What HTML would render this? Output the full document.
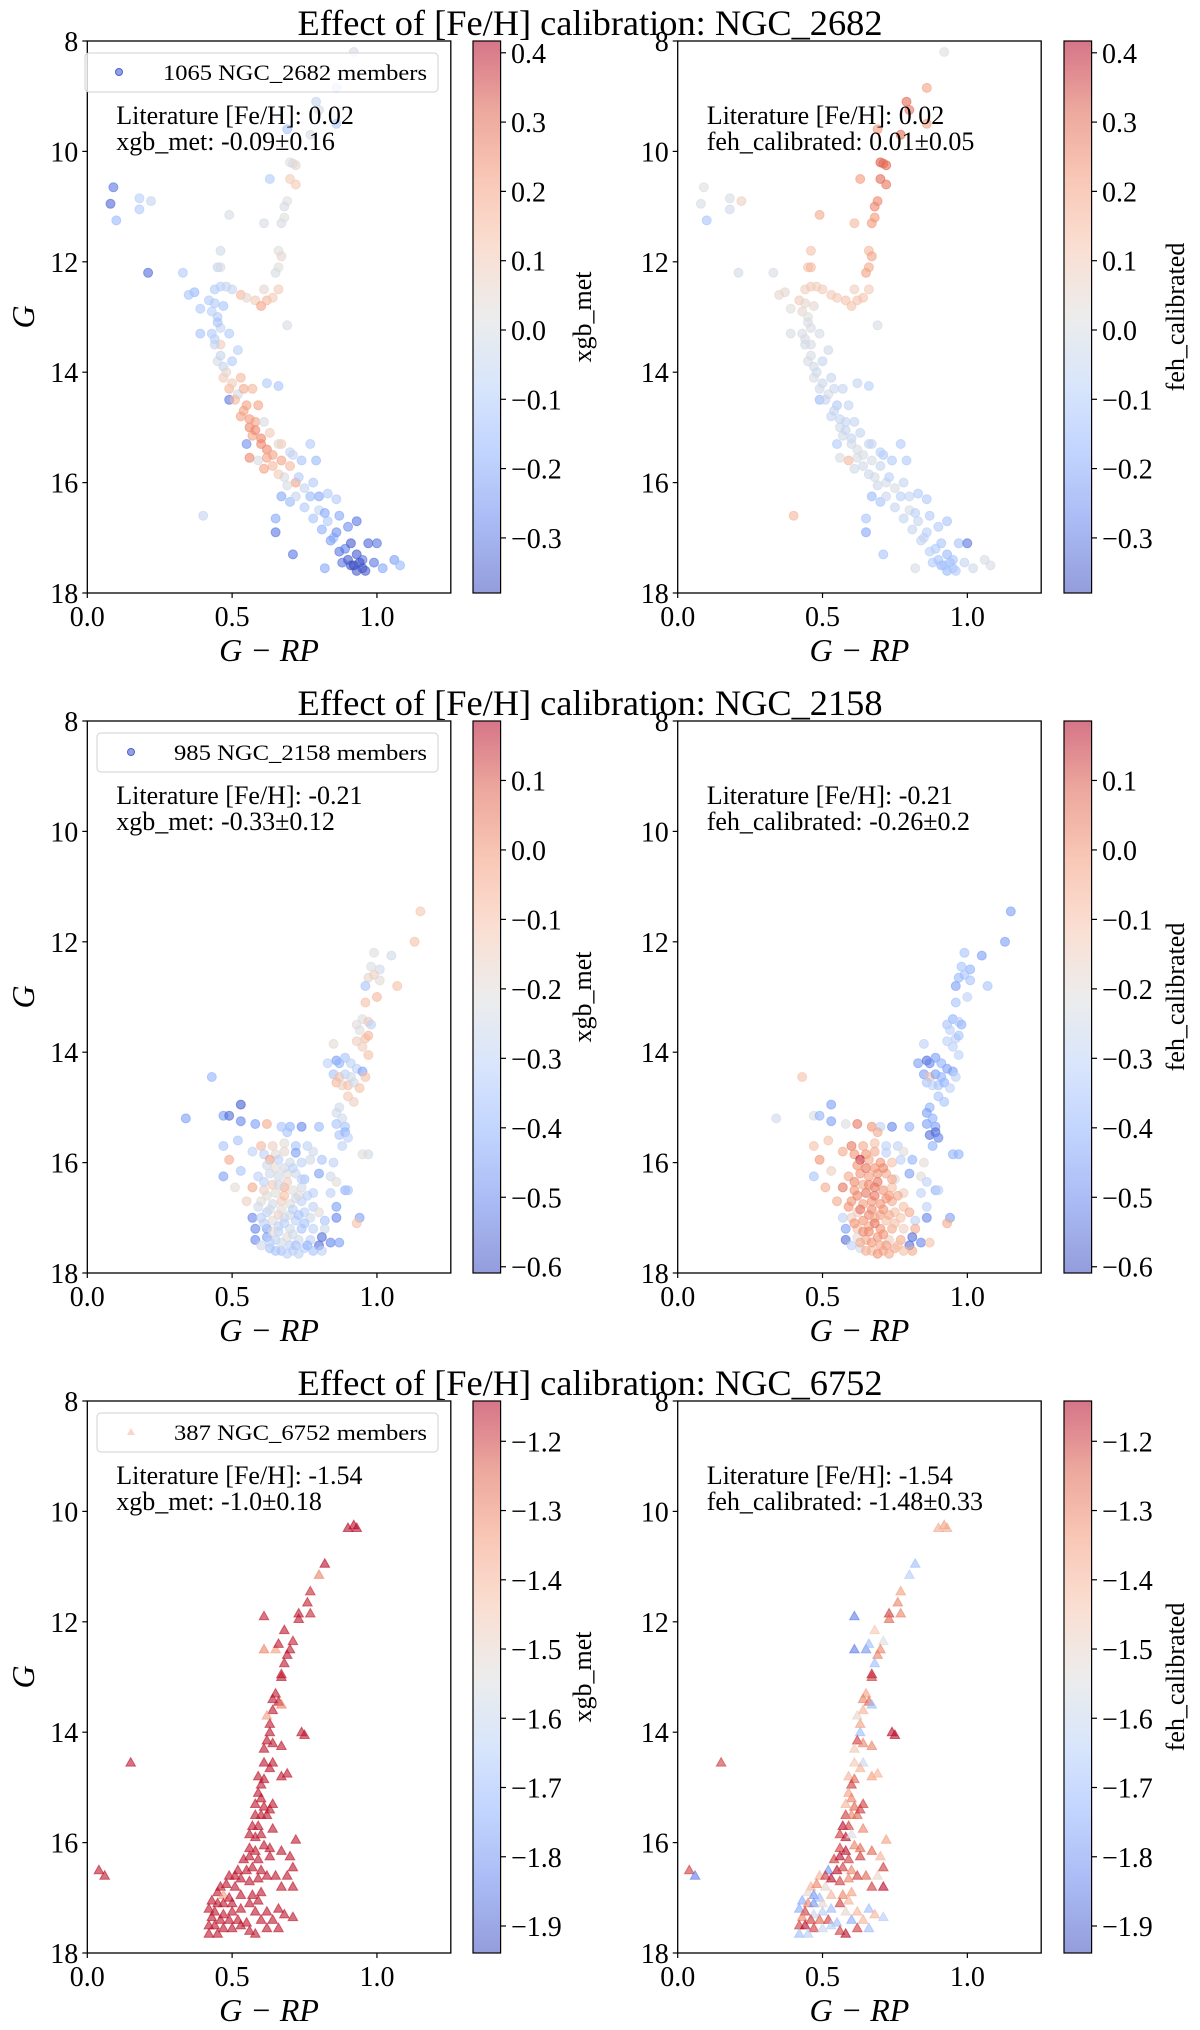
<!DOCTYPE html>
<html><head><meta charset="utf-8"><style>
html,body{margin:0;padding:0;background:#fff;}
svg{display:block;font-family:"Liberation Serif",serif;}
</style></head><body>
<svg id="fig" width="1200" height="2030" viewBox="0 0 1200 2030" xmlns="http://www.w3.org/2000/svg"></svg>
<script>
// ---------- NGC_2682 ----------
const m67Color=[0.92,0.86,0.79,0.80,0.86,0.69,0.77,0.70,0.71,0.72,
0.63,0.70,0.72,0.69,0.68,0.67,0.68,0.61,0.49,0.66,
0.67,0.65,0.66,0.46,0.45,0.46,0.33,0.21,0.09,0.08,
0.10,0.18,0.18,0.22,0.44,0.46,0.48,0.50,0.53,0.55,
0.58,0.60,0.62,0.64,0.66,0.61,0.37,0.35,0.42,0.43,
0.45,0.46,0.39,0.69,0.39,0.43,0.46,0.44,0.45,0.47,
0.50,0.47,0.49,0.53,0.52,0.49,0.57,0.62,0.66,0.55,
0.53,0.56,0.58,0.61,0.60,0.57,0.62,0.64,0.59,0.55,
0.67,0.67,0.70,0.71,0.74,0.77,0.79,0.68,0.72,0.75,
0.78,0.80,0.83,0.86,0.67,0.70,0.80,0.83,0.87,0.90,
0.93,0.85,0.89,0.93,0.91,0.93,0.95,0.97,1.00,0.99,
1.02,1.06,1.08,0.82,0.65,0.71,0.40,0.65,0.88,0.95,
0.44,0.45,0.44,0.46,0.48,0.50,0.51,0.54,0.56,0.58,
0.60,0.62,0.64,0.66,0.69,0.72,0.75,0.78,0.81,0.84,
0.87,0.90,0.92,0.94,0.96,0.47,0.49,0.52,0.54,0.59,
0.63,0.66,0.70,0.73,0.77,0.82,0.86,0.91,0.56,0.61];
const m67G=[8.2,8.85,9.1,9.25,9.5,9.6,9.7,10.2,10.22,10.25,
10.5,10.5,10.6,10.9,11.0,11.3,11.2,11.3,11.15,11.8,
11.9,12.2,12.1,11.8,12.1,12.1,12.2,12.2,10.65,10.95,
11.25,10.85,11.05,10.9,12.5,12.45,12.45,12.5,12.6,12.65,
12.7,12.8,12.7,12.65,12.5,12.5,12.55,12.6,12.7,12.9,
13.0,13.2,12.85,13.15,13.3,13.3,13.5,13.5,13.8,13.9,
13.8,14.1,14.3,14.1,14.4,14.5,14.3,14.2,14.25,14.6,
14.8,15.0,14.9,14.9,15.2,15.15,15.4,15.5,15.6,15.3,
15.3,15.6,15.7,15.5,15.6,15.3,15.6,15.9,16.0,16.1,
16.0,16.25,16.2,16.3,16.25,16.35,16.5,16.7,16.6,16.8,
16.7,17.0,17.2,17.3,17.5,17.6,17.4,17.1,17.1,17.45,
17.55,17.4,17.5,17.55,16.9,17.3,16.6,16.65,17.45,17.55,
12.75,13.1,13.4,13.7,14.0,14.2,14.5,14.7,14.85,15.05,
15.3,15.55,15.7,15.85,16.05,16.25,16.45,16.65,16.85,17.05,
17.25,17.4,17.5,17.45,17.6,12.8,13.3,13.6,14.3,14.6,
15.1,15.3,15.45,15.9,16.25,16.55,16.9,17.1,15.55,15.75];
const m67Xgb=[0.0,-0.1,-0.05,0.0,-0.1,-0.12,0.0,0.02,0.0,0.05,
-0.1,0.1,0.1,0.02,0.0,0.0,0.02,0.0,0.0,0.02,
0.05,0.0,0.02,-0.02,-0.05,0.0,-0.1,-0.32,-0.3,-0.33,
-0.15,-0.08,-0.1,-0.05,-0.1,-0.08,-0.05,-0.05,0.15,0.05,
0.1,0.2,0.15,0.1,0.1,0.05,-0.15,-0.12,-0.1,-0.08,
-0.1,-0.05,-0.1,0.0,-0.12,-0.1,0.1,-0.05,0.0,-0.05,
-0.1,0.1,0.15,0.15,-0.02,-0.3,0.15,-0.1,-0.12,0.2,
0.2,0.25,0.2,0.0,0.25,0.2,0.25,0.2,0.0,-0.25,
0.1,0.2,0.15,-0.05,-0.12,-0.1,-0.15,0.0,0.2,-0.05,
-0.1,-0.2,-0.1,-0.1,-0.2,-0.15,-0.05,-0.1,-0.2,-0.25,
-0.3,-0.15,-0.28,-0.35,-0.36,-0.35,-0.3,-0.33,-0.3,-0.3,
-0.2,-0.22,-0.15,-0.2,-0.3,-0.3,-0.05,-0.2,-0.3,-0.36,
-0.1,-0.12,-0.08,-0.05,0.05,0.1,0.15,0.2,0.22,0.25,
0.25,0.2,0.15,0.1,0.0,-0.05,-0.1,-0.12,-0.18,-0.22,
-0.3,-0.35,-0.38,-0.37,-0.35,-0.12,-0.1,-0.08,0.18,0.2,
0.1,0.05,-0.05,-0.1,-0.15,-0.2,-0.25,-0.35,0.25,0.2];
const m67Feh=[0.02,0.2,0.3,0.28,0.2,0.22,0.3,0.32,0.3,0.3,
0.22,0.3,0.28,0.25,0.25,0.22,0.22,0.15,0.18,0.15,
0.2,0.2,0.18,0.12,0.12,0.15,0.0,-0.01,0.02,0.0,
-0.12,0.0,-0.02,0.08,0.08,0.1,0.08,0.1,0.1,0.1,
0.12,0.12,0.12,0.12,0.1,0.08,0.05,0.05,0.1,0.05,
0.02,0.0,0.02,0.0,0.0,0.0,0.0,-0.01,0.0,-0.02,
-0.05,0.0,-0.02,-0.05,0.0,-0.15,-0.05,-0.05,-0.08,-0.1,
-0.05,-0.02,-0.05,-0.05,-0.05,-0.02,0.0,0.0,0.15,-0.1,
-0.05,0.0,-0.05,-0.1,-0.1,-0.1,-0.1,0.0,0.0,0.0,
-0.05,-0.05,-0.1,-0.1,-0.15,-0.12,0.0,-0.05,-0.1,-0.1,
-0.12,-0.05,-0.1,-0.15,-0.15,-0.15,-0.12,-0.12,-0.3,-0.05,
-0.02,0.0,0.0,0.0,-0.2,-0.12,0.15,-0.12,-0.1,-0.12,
0.05,0.0,0.0,0.0,-0.02,-0.03,-0.05,-0.05,-0.05,-0.05,
-0.02,0.0,-0.02,-0.03,-0.03,-0.03,-0.05,-0.05,-0.05,-0.05,
-0.08,-0.12,-0.12,-0.12,-0.1,0.05,0.0,-0.02,-0.03,-0.05,
-0.05,-0.05,-0.08,-0.08,-0.08,-0.08,-0.08,-0.12,0.0,-0.02];

// ---------- NGC_2158 ----------
const n2158Color=[1.15,1.13,0.99,1.05,0.98,1.01,0.99,0.97,1.01,1.07,
0.96,0.96,1.0,0.95,0.93,0.94,0.97,0.98,0.93,0.96,
0.97,0.95,0.97,0.85,0.83,0.86,0.87,0.89,0.91,0.93,
0.85,0.87,0.89,0.91,0.86,0.88,0.90,0.92,0.94,0.95,
0.96,0.90,0.92,0.87,0.86,0.88,0.86,0.89,0.87,0.89,
0.90,0.88,0.97,0.43,0.34,0.47,0.49,0.53,0.53,0.58,
0.62,0.67,0.70,0.74,0.80,0.69,0.52,0.47,0.60,0.64,
0.68,0.72,0.76,0.78,0.57,0.61,0.65,0.68,0.72,0.49,
0.63,0.66,0.70,0.74,0.77,0.81,0.85,0.95,0.53,0.59,
0.63,0.66,0.69,0.72,0.75,0.80,0.84,0.86,0.47,0.51,
0.57,0.61,0.64,0.68,0.71,0.74,0.78,0.84,0.89,0.90,
0.55,0.60,0.64,0.67,0.70,0.74,0.78,0.86,0.62,0.66,
0.70,0.75,0.80,0.57,0.60,0.64,0.68,0.72,0.77,0.82,
0.86,0.94,0.93,0.58,0.62,0.66,0.70,0.74,0.78,0.82,
0.58,0.62,0.65,0.69,0.73,0.77,0.81,0.84,0.87,0.80,
0.63,0.67,0.71,0.75,0.81,0.60,0.70,0.66,0.68,0.73,
0.62,0.65,0.68,0.71,0.61,0.65,0.69,0.72,0.76,0.62,
0.63,0.67,0.71,0.73,0.61,0.64,0.68,0.71,0.75,0.63,
0.67,0.72,0.76,0.65,0.69,0.73,0.78,0.59,0.74,0.66];
const n2158G=[11.45,12.0,12.2,12.25,12.45,12.5,12.6,12.65,12.7,12.8,
12.8,13.1,13.0,13.4,13.5,13.6,13.45,13.5,13.8,13.75,
13.7,13.9,14.05,13.85,14.2,14.15,14.2,14.1,14.2,14.3,
14.4,14.45,14.4,14.45,14.55,14.6,14.6,14.55,14.65,14.35,
14.45,14.8,14.9,15.0,15.1,15.2,15.3,15.35,15.5,15.45,
15.55,15.7,15.85,14.45,15.2,15.15,15.15,14.95,15.25,15.3,
15.3,15.35,15.35,15.35,15.35,15.45,15.6,15.7,15.7,15.7,
15.65,15.7,15.7,15.8,15.8,15.85,15.85,15.8,15.82,15.95,
15.95,15.95,16.0,16.0,15.95,15.95,16.0,15.85,16.15,16.25,
16.2,16.25,16.2,16.2,16.3,16.2,16.25,16.35,16.25,16.45,
16.45,16.5,16.4,16.45,16.5,16.45,16.55,16.55,16.5,16.5,
16.7,16.7,16.75,16.7,16.75,16.7,16.8,16.8,16.9,16.95,
16.95,16.9,16.9,17.0,17.0,17.05,17.0,17.05,17.0,17.05,
17.0,17.0,17.1,17.2,17.2,17.15,17.2,17.2,17.2,17.2,
17.4,17.35,17.4,17.35,17.4,17.4,17.35,17.45,17.45,17.5,
17.55,17.6,17.6,17.55,17.6,17.5,17.5,17.25,16.6,16.6,
16.05,16.1,16.1,16.1,16.35,16.55,16.35,16.65,16.6,16.6,
16.85,16.85,16.85,16.95,17.1,17.25,17.1,17.3,17.1,17.45,
17.45,17.5,17.5,17.6,17.65,17.65,17.6,16.8,16.3,16.4];
const n2158Xgb=[-0.12,-0.1,-0.22,-0.25,-0.22,-0.25,-0.15,-0.17,-0.2,-0.1,
-0.35,-0.1,-0.08,-0.22,-0.2,-0.22,-0.12,-0.3,-0.15,-0.1,
-0.08,-0.15,-0.1,-0.2,-0.3,-0.45,-0.4,-0.35,-0.3,-0.3,
-0.35,-0.1,-0.3,-0.25,-0.08,-0.15,-0.1,-0.25,-0.1,-0.45,
-0.1,-0.12,-0.15,-0.25,-0.25,-0.25,-0.35,-0.35,-0.35,-0.4,
-0.3,-0.3,-0.25,-0.4,-0.45,-0.45,-0.55,-0.58,-0.5,-0.45,
-0.05,-0.35,-0.4,-0.5,-0.38,-0.35,-0.35,-0.35,-0.08,-0.15,
-0.2,-0.35,-0.3,-0.25,-0.3,-0.3,-0.2,-0.18,-0.45,-0.05,
-0.02,-0.3,-0.25,-0.3,-0.25,-0.35,-0.3,-0.2,-0.35,-0.3,
-0.25,-0.25,-0.2,-0.25,-0.35,-0.45,-0.25,-0.2,-0.45,-0.2,
-0.05,-0.15,-0.12,-0.05,-0.2,-0.25,-0.3,-0.3,-0.4,-0.35,
-0.15,-0.2,-0.25,-0.15,-0.2,-0.3,-0.3,-0.45,-0.3,-0.15,
-0.25,-0.3,-0.2,-0.5,-0.3,-0.2,-0.25,-0.3,-0.25,-0.35,
-0.5,-0.45,-0.1,-0.5,-0.45,-0.3,-0.25,-0.35,-0.3,-0.25,
-0.5,-0.45,-0.3,-0.2,-0.25,-0.3,-0.55,-0.5,-0.45,-0.55,
-0.35,-0.35,-0.3,-0.3,-0.3,-0.25,-0.3,-0.3,-0.1,-0.2,
-0.25,-0.2,-0.25,-0.3,-0.3,-0.2,-0.15,-0.25,-0.3,-0.2,
-0.25,-0.2,-0.3,-0.35,-0.3,-0.2,-0.3,-0.25,-0.35,-0.3,
-0.25,-0.35,-0.4,-0.35,-0.3,-0.3,-0.35,-0.25,-0.3,-0.25];
const n2158Feh=[-0.45,-0.45,-0.35,-0.45,-0.35,-0.4,-0.35,-0.38,-0.35,-0.35,
-0.45,-0.35,-0.3,-0.4,-0.35,-0.3,-0.3,-0.4,-0.3,-0.3,
-0.35,-0.3,-0.3,-0.3,-0.45,-0.55,-0.5,-0.45,-0.4,-0.45,
-0.45,-0.1,-0.45,-0.4,-0.35,-0.3,-0.35,-0.4,-0.3,-0.45,
-0.3,-0.35,-0.35,-0.4,-0.45,-0.4,-0.45,-0.45,-0.55,-0.55,
-0.5,-0.4,-0.4,-0.1,-0.25,-0.22,-0.4,-0.45,-0.45,-0.22,
0.05,0.0,-0.3,-0.5,-0.4,-0.05,-0.1,-0.1,0.05,-0.05,
-0.1,-0.3,-0.3,-0.2,-0.05,0.0,0.0,-0.05,-0.3,0.0,
0.15,-0.05,0.0,-0.1,-0.3,-0.4,-0.2,-0.4,-0.15,-0.05,
0.0,-0.02,0.0,-0.05,-0.2,-0.45,-0.2,-0.3,-0.35,-0.05,
0.05,0.0,-0.05,0.05,0.0,-0.1,-0.15,-0.3,-0.4,-0.3,
-0.05,0.0,-0.02,0.0,0.0,-0.05,-0.1,-0.3,-0.15,0.02,
-0.02,-0.1,-0.05,-0.3,-0.15,0.0,-0.05,-0.1,-0.12,-0.3,
-0.5,-0.45,-0.05,-0.45,-0.1,-0.05,0.0,-0.05,-0.15,-0.05,
-0.55,-0.2,-0.05,0.0,-0.15,-0.05,-0.55,-0.5,-0.1,-0.55,
-0.25,-0.1,-0.05,-0.05,-0.05,-0.3,-0.05,0.02,0.05,-0.02,
0.0,0.05,0.0,0.02,0.02,0.05,0.05,0.0,-0.05,0.02,
0.05,0.02,0.0,-0.05,0.0,0.02,0.05,0.0,-0.1,-0.05,
0.0,-0.02,-0.1,-0.05,0.0,-0.05,-0.1,0.0,-0.05,0.02];

// ---------- NGC_6752 ----------
const n6752Color=[0.92,0.90,0.93,0.82,0.80,0.77,0.76,0.73,0.73,0.77,
0.61,0.68,0.61,0.65,0.66,0.71,0.70,0.69,0.68,0.67,
0.67,0.65,0.64,0.66,0.67,0.64,0.62,0.63,0.63,0.74,
0.75,0.62,0.64,0.67,0.61,0.15,0.61,0.64,0.63,0.59,
0.61,0.60,0.67,0.69,0.59,0.60,0.58,0.61,0.64,0.58,
0.60,0.62,0.63,0.57,0.59,0.56,0.58,0.60,0.64,0.72,
0.56,0.58,0.61,0.63,0.67,0.54,0.56,0.59,0.63,0.70,
0.52,0.55,0.57,0.60,0.71,0.49,0.51,0.53,0.56,0.59,
0.62,0.65,0.69,0.46,0.48,0.51,0.45,0.47,0.49,0.53,
0.57,0.60,0.67,0.71,0.43,0.45,0.47,0.50,0.56,0.59,
0.42,0.44,0.47,0.50,0.53,0.58,0.62,0.66,0.68,0.43,
0.46,0.49,0.52,0.55,0.60,0.64,0.71,0.42,0.44,0.47,
0.50,0.53,0.56,0.58,0.62,0.66,0.42,0.45,0.04,0.06];
const n6752G=[10.25,10.3,10.3,10.95,11.15,11.45,11.65,11.85,11.95,11.85,
11.9,12.15,12.5,12.5,12.4,12.35,12.5,12.6,12.75,12.95,
13.0,13.3,13.4,13.45,13.5,13.6,13.7,13.85,14.0,14.0,
14.05,14.15,14.2,14.25,14.3,14.55,14.55,14.55,14.65,14.8,
14.85,14.95,14.8,14.75,15.1,15.2,15.3,15.35,15.3,15.5,
15.5,15.5,15.4,15.7,15.7,15.85,15.9,15.85,15.75,15.95,
16.1,16.15,16.05,16.1,16.15,16.3,16.25,16.3,16.25,16.25,
16.5,16.5,16.45,16.5,16.45,16.6,16.6,16.65,16.7,16.65,
16.6,16.6,16.6,16.8,16.75,16.8,16.9,16.95,17.0,16.95,
16.95,16.9,16.8,16.8,17.05,17.1,17.1,17.1,17.1,17.05,
17.2,17.25,17.3,17.25,17.2,17.25,17.25,17.2,17.3,17.35,
17.4,17.4,17.4,17.45,17.4,17.4,17.35,17.5,17.5,17.55,
17.55,17.5,17.6,17.65,17.55,17.55,17.65,17.65,16.5,16.6];
const n6752Xgb=[-1.15,-1.15,-1.15,-1.15,-1.3,-1.18,-1.17,-1.16,-1.16,-1.18,
-1.17,-1.16,-1.3,-1.35,-1.16,-1.17,-1.16,-1.16,-1.16,-1.16,
-1.16,-1.16,-1.16,-1.16,-1.3,-1.16,-1.35,-1.16,-1.16,-1.16,
-1.16,-1.16,-1.16,-1.16,-1.16,-1.16,-1.16,-1.16,-1.16,-1.16,
-1.16,-1.16,-1.16,-1.16,-1.16,-1.16,-1.16,-1.16,-1.16,-1.16,
-1.16,-1.16,-1.16,-1.16,-1.16,-1.16,-1.16,-1.16,-1.16,-1.16,
-1.16,-1.16,-1.16,-1.16,-1.16,-1.16,-1.16,-1.16,-1.16,-1.16,
-1.16,-1.16,-1.16,-1.16,-1.16,-1.16,-1.16,-1.16,-1.16,-1.16,
-1.16,-1.16,-1.16,-1.16,-1.16,-1.16,-1.16,-1.35,-1.16,-1.16,
-1.16,-1.16,-1.16,-1.16,-1.16,-1.16,-1.16,-1.16,-1.16,-1.16,
-1.16,-1.16,-1.16,-1.16,-1.16,-1.16,-1.16,-1.16,-1.16,-1.16,
-1.16,-1.16,-1.16,-1.16,-1.16,-1.16,-1.16,-1.16,-1.16,-1.16,
-1.16,-1.16,-1.16,-1.16,-1.16,-1.16,-1.16,-1.16,-1.16,-1.16];
const n6752Feh=[-1.35,-1.38,-1.38,-1.7,-1.65,-1.35,-1.3,-1.2,-1.25,-1.3,
-1.85,-1.45,-1.85,-1.8,-1.7,-1.55,-1.3,-1.3,-1.7,-1.15,
-1.2,-1.35,-1.3,-1.25,-1.7,-1.4,-1.5,-1.35,-1.7,-1.15,
-1.15,-1.2,-1.3,-1.3,-1.45,-1.2,-1.45,-1.6,-1.4,-1.4,
-1.25,-1.2,-1.35,-1.4,-1.35,-1.3,-1.4,-1.25,-1.2,-1.2,
-1.3,-1.25,-1.2,-1.15,-1.2,-1.2,-1.15,-1.55,-1.3,-1.35,
-1.2,-1.15,-1.3,-1.25,-1.25,-1.2,-1.15,-1.2,-1.2,-1.4,
-1.8,-1.15,-1.2,-1.3,-1.2,-1.4,-1.2,-1.15,-1.2,-1.3,
-1.2,-1.25,-1.5,-1.4,-1.3,-1.5,-1.5,-1.8,-1.7,-1.4,
-1.3,-1.35,-1.2,-1.15,-1.75,-1.3,-1.8,-1.5,-1.2,-1.4,
-1.75,-1.2,-1.6,-1.65,-1.7,-1.5,-1.4,-1.7,-1.4,-1.3,
-1.2,-1.25,-1.2,-1.7,-1.75,-1.4,-1.65,-1.2,-1.15,-1.2,
-1.6,-1.65,-1.2,-1.15,-1.2,-1.7,-1.7,-1.65,-1.2,-1.85];

// colorbar ticks
const ticks2682=[0.4,0.3,0.2,0.1,0.0,-0.1,-0.2,-0.3];
const ticks2158=[0.1,0.0,-0.1,-0.2,-0.3,-0.4,-0.5,-0.6];
const ticks6752=[-1.2,-1.3,-1.4,-1.5,-1.6,-1.7,-1.8,-1.9];
const xTicks=[0.0,0.5,1.0];
const yTicks=[8,10,12,14,16,18];

const NS="http://www.w3.org/2000/svg";
const svg=document.getElementById('fig');
function el(tag,attrs,parent,text){const e=document.createElementNS(NS,tag);for(const k in attrs)e.setAttribute(k,attrs[k]);if(text!==undefined)e.textContent=text;(parent||svg).appendChild(e);return e;}
const CW=[[0,59,76,192],[0.125,98,130,234],[0.25,141,176,254],[0.375,184,208,249],[0.5,221,221,221],[0.625,245,196,173],[0.75,244,154,123],[0.875,222,96,76],[1,180,4,38]];
function coolwarm(t){t=Math.max(0,Math.min(1,t));for(let i=1;i<CW.length;i++){if(t<=CW[i][0]){const a=CW[i-1],b=CW[i],f=(t-a[0])/(b[0]-a[0]);return 'rgb('+[1,2,3].map(j=>Math.round(a[j]+(b[j]-a[j])*f)).join(',')+')';}}return 'rgb(180,4,38)';}
function fmt(v){const s=Math.abs(v).toFixed(1);return (v<-1e-9?'\u2212':'')+s;}

const XMAX=1.255, PW=363.5, PH=552;
const rows=[
 {top:41,name:'NGC_2682',cx:m67Color,g:m67G,vals:[m67Xgb,m67Feh],vmin:-0.3795,vmax:0.417,ticks:ticks2682,marker:'circle',count:1065,lit:'0.02',stats:['-0.09\u00b10.16','0.01\u00b10.05'],legX:85,legMX:119,legTX:163},
 {top:721,name:'NGC_2158',cx:n2158Color,g:n2158G,vals:[n2158Xgb,n2158Feh],vmin:-0.609,vmax:0.1856,ticks:ticks2158,marker:'circle',count:985,lit:'-0.21',stats:['-0.33\u00b10.12','-0.26\u00b10.2'],legX:97,legMX:131,legTX:174},
 {top:1401,name:'NGC_6752',cx:n6752Color,g:n6752G,vals:[n6752Xgb,n6752Feh],vmin:-1.939,vmax:-1.1418,ticks:ticks6752,marker:'tri',count:387,lit:'-1.54',stats:['-1.0\u00b10.18','-1.48\u00b10.33'],legX:97,legMX:131,legTX:174}
];
const panels=[{left:87.3,cb:473,label:'xgb_met',labelX:591},{left:677.7,cb:1064,label:'feh_calibrated',labelX:1184}];

const defs=el('defs',{});
const grad=el('linearGradient',{id:'cwgrad',x1:0,y1:1,x2:0,y2:0},defs);
for(let i=0;i<=16;i++){el('stop',{offset:i/16,'stop-color':coolwarm(i/16)},grad);}

rows.forEach((r,ri)=>{
  const title=el('text',{x:590,y:r.top-6,'text-anchor':'middle','font-size':36,textLength:585,lengthAdjust:'spacingAndGlyphs'},svg,'Effect of [Fe/H] calibration:  '+r.name);
  
  
  panels.forEach((p,pi)=>{
    const g=el('g',{});
    
    
    const sx=c=>p.left+c/XMAX*PW, sy=v=>r.top+(v-8)/10*PH;
    const sc=v=>coolwarm((v-r.vmin)/(r.vmax-r.vmin));
    const pg=el('g',{'fill-opacity':0.6,'stroke-opacity':0.6,'stroke-width':1},g);
    
    
    const vals=r.vals[pi];
    for(let i=0;i<r.cx.length;i++){
      const x=sx(r.cx[i]),y=sy(r.g[i]),col=sc(vals[i]);let m;
      if(r.marker==='circle'){m=el('circle',{cx:x.toFixed(1),cy:y.toFixed(1),r:4.5,fill:col,stroke:col},pg);}
      else{m=el('polygon',{points:`${x.toFixed(1)},${(y-5).toFixed(1)} ${(x+4.8).toFixed(1)},${(y+3.5).toFixed(1)} ${(x-4.8).toFixed(1)},${(y+3.5).toFixed(1)}`,fill:col,stroke:col},pg);}
      
      
    }
    const fr=el('rect',{x:p.left,y:r.top,width:PW,height:PH,fill:'none',stroke:'#000','stroke-width':1.3},g);
    
    
    xTicks.forEach(t=>{const x=sx(t);el('line',{x1:x,x2:x,y1:r.top+PH,y2:r.top+PH+5,stroke:'#000','stroke-width':1.2},g);
      const tl=el('text',{x:x,y:r.top+PH+33,'text-anchor':'middle','font-size':28},g,t.toFixed(1));
      
      });
    yTicks.forEach(t=>{const y=sy(t);el('line',{x1:p.left-5,x2:p.left,y1:y,y2:y,stroke:'#000','stroke-width':1.2},g);
      const tl=el('text',{x:p.left-9,y:y+10,'text-anchor':'end','font-size':28},g,String(t));
      
      });
    const xl=el('text',{x:p.left+PW/2,y:r.top+PH+68,'text-anchor':'middle','font-size':32,'font-style':'italic'},g,'G \u2212 RP');
    
    
    if(pi===0){const yl=el('text',{x:0,y:0,'text-anchor':'middle','font-size':32,'font-style':'italic',transform:`translate(34,${r.top+PH/2}) rotate(-90)`},g,'G');
      
      }
    const a1=el('text',{x:p.left+29,y:r.top+83,'font-size':26},g,'Literature [Fe/H]: '+r.lit);
    
    
    const a2=el('text',{x:p.left+29,y:r.top+109,'font-size':26},g,(pi?'feh_calibrated: ':'xgb_met: ')+r.stats[pi]);
    
    
    if(pi===0){
      const lg=el('g',{},g);
      
      
      el('rect',{x:r.legX,y:r.top+12,width:438-r.legX,height:39,rx:4,fill:'#fff','fill-opacity':0.8,stroke:'#d0d0d0','stroke-width':1},lg);
      const my=r.top+31;
      if(r.marker==='circle'){el('circle',{cx:r.legMX,cy:my,r:3.5,fill:coolwarm(0.05),'fill-opacity':0.6,stroke:coolwarm(0.05)},lg);}
      else{el('polygon',{points:`${r.legMX},${my-4} ${r.legMX+4},${my+3} ${r.legMX-4},${my+3}`,fill:coolwarm(0.65),'fill-opacity':0.6},lg);}
      const lt=el('text',{x:r.legTX,y:my+8,'font-size':22,textLength:427-r.legTX,lengthAdjust:'spacingAndGlyphs'},lg,r.count+' '+r.name+' members');
      
      
    }
    const cbg=el('g',{},g);
    
    
    el('rect',{x:p.cb,y:r.top,width:27.6,height:PH,fill:'url(#cwgrad)','fill-opacity':0.55},cbg);
    el('rect',{x:p.cb,y:r.top,width:27.6,height:PH,fill:'none',stroke:'#000','stroke-width':1.2},cbg);
    r.ticks.forEach(t=>{const y=r.top+(r.vmax-t)/(r.vmax-r.vmin)*PH;
      el('line',{x1:p.cb+27.6,x2:p.cb+33,y1:y,y2:y,stroke:'#000','stroke-width':1.2},cbg);
      const tl=el('text',{x:p.cb+38,y:y+10,'font-size':28},cbg,fmt(t));
      
      });
    const cl=el('text',{x:0,y:0,'text-anchor':'middle','font-size':26,transform:`translate(${p.labelX},${r.top+PH/2}) rotate(-90)`},cbg,p.label);
    
    
  });
});
</script>
</body></html>
